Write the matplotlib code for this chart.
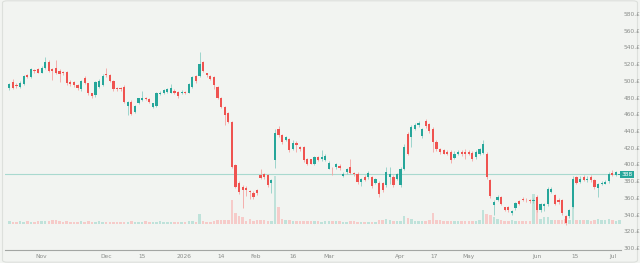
import matplotlib
matplotlib.use("Agg")
import matplotlib.pyplot as plt
from matplotlib.patches import FancyBboxPatch
import numpy as np

opens = [491,499,495,493,496,507,505,513,514,510,515,523,514,515,512,511,511,499,499,495,
         490,504,497,485,483,493,495,508,507,500,492,492,493,470,475,463,473,477,480,478,
         469,470,484,485,487,486,488,487,485,487,486,493,506,506,522,509,506,505,493,480,
         469,462,451,399,378,373,372,368,366,369,387,389,387,378,405,442,435,429,431,419,
         426,421,421,406,406,401,409,406,405,395,395,397,398,386,391,397,390,389,379,385,
         385,385,378,378,378,375,385,385,383,375,395,437,433,443,447,434,452,448,443,427,
         418,417,415,415,408,413,415,415,415,414,409,413,414,413,381,351,357,361,349,349,
         342,348,356,359,358,357,356,361,345,350,353,367,363,358,357,338,338,349,385,379,
         385,381,385,381,372,376,377,380,390,387,387]
highs = [498,502,497,500,507,508,516,514,515,518,528,525,515,525,514,512,512,501,500,496,
         501,506,498,486,500,502,508,516,508,501,493,493,495,476,477,471,480,488,481,480,
         474,487,488,490,492,496,490,488,489,488,497,506,507,535,524,510,507,506,494,481,
         470,463,452,401,380,375,374,369,368,371,395,390,389,382,442,446,436,434,432,429,
         428,422,422,408,407,410,410,417,412,404,397,402,401,391,396,407,391,391,384,387,
         392,386,384,380,379,397,397,387,390,397,424,439,447,450,452,444,454,450,445,429,
         420,418,417,417,416,417,417,418,417,416,417,420,429,415,383,357,363,362,349,350,
         345,355,357,361,360,359,360,363,354,354,373,373,365,360,359,340,347,386,386,386,
         387,386,387,383,378,380,381,391,393,392,390]
lows = [489,490,492,491,495,504,503,510,509,509,514,511,501,508,499,507,495,494,493,489,
        488,496,483,480,481,491,494,505,499,488,488,488,473,459,459,461,472,476,477,473,
        467,469,483,484,486,485,484,480,484,484,485,492,498,505,511,505,501,490,478,467,
        447,450,396,372,365,348,362,359,359,363,382,383,373,366,396,433,425,428,415,417,
        415,416,403,399,400,399,404,404,404,394,387,395,393,385,389,389,386,377,374,380,
        383,372,376,361,367,373,377,373,381,373,393,411,421,441,445,432,444,438,415,416,
        413,412,411,402,406,411,410,406,411,404,406,411,412,382,360,340,356,352,344,343,
        340,346,351,356,355,354,354,343,343,344,350,366,351,353,340,328,336,348,376,378,
        380,379,379,371,361,375,376,378,386,386,386]
closes = [496,492,494,497,506,505,514,512,510,516,523,512,512,510,508,509,497,496,495,491,
          500,497,485,482,499,500,506,507,500,490,490,490,475,475,460,470,479,480,478,475,
          473,485,486,489,490,491,485,482,487,485,496,505,500,520,512,507,502,495,480,469,
          459,451,397,373,367,369,369,367,361,366,384,385,375,381,438,435,427,433,417,426,
          423,418,405,401,401,409,405,409,410,402,394,401,396,389,394,390,388,379,382,381,
          390,374,382,365,369,391,389,375,389,395,421,413,445,447,449,442,446,440,427,418,
          415,413,413,405,413,415,413,413,413,406,415,418,425,385,362,355,361,353,346,345,
          344,354,353,357,357,356,358,345,353,353,371,371,353,355,342,330,346,383,378,383,
          381,383,381,373,376,378,379,389,387,391,388]
volumes = [3,2.5,2.5,3,2.5,3,2.5,2.5,3,3.3,3,3,4.3,4,3,2.5,3,2.5,2.5,2.5,
           3,2.5,3,2.5,2.5,3,2.5,2.5,2.5,2.5,2.5,2.5,2.5,2.5,3.5,2.5,2.5,2.5,3,2.5,
           2.5,2.5,3,2.5,2.5,2.5,2.5,2.5,2.5,2.5,3,3,2.5,10,3,2.5,2.5,3,4,4,
           4,4.5,24,11,8,7,3,5,3,4,4,4,3,3,48,17,5,4.5,4,3.5,
           3.5,3,3,3.5,3,3,3,2.5,3.5,3.5,3,3,3,2.5,2.5,3,3,2.5,2.5,2.5,
           2.5,2.5,2.5,4,4,5,4,3,3,3.5,8,6,5,3,3,3,3,4,11,4,
           4,3.5,3,3,3.5,3,3,3,3,3,3.5,4,14,10,9,7,5,4,3,3.5,
           4,3.5,3,3,3,3,30,24,5,7,7,4,4,4,4,5,4,20,4,4,
           4,4,3.5,4.5,5,4,4,5,4,3.5,4]

tick_idx = [9, 27, 37, 48.7, 59, 68.7, 79, 89, 108.8, 118.3, 127.8, 147, 157.6, 168]
tick_labels = ["Nov", "Dec", "15", "2026", "14", "Feb", "16", "Mar", "Apr", "17", "May", "Jun", "15", "Jul"]
price_ticks = list(range(300, 581, 20))
last_price = 388

UP = "#26a69a"
DOWN = "#ef5350"
UP_W = "#8fd0c6"
DOWN_W = "#f5a3a1"
UP_V = "#bfe2da"
DOWN_V = "#f6cbc9"
BG = "#f2f4f1"

W, H = 640, 263
fig = plt.figure(figsize=(W / 100, H / 100), dpi=100, facecolor=BG)

left, right, top, bottom = 5, 621, 0, 250
rect = [left / W, (H - bottom) / H, (right - left) / W, (bottom - top) / H]
ax = fig.add_axes(rect)
axv = fig.add_axes(rect)
ax.set_zorder(2)
ax.patch.set_visible(False)
axv.set_facecolor(BG)

n = len(opens)
x = np.arange(n)
o = np.array(opens, float); c = np.array(closes, float)
h = np.array(highs, float); l = np.array(lows, float)
up = c >= o

# volume
axv.bar(x, volumes, width=0.7, color=[UP_V if u else DOWN_V for u in up], linewidth=0)
axv.set_ylim(-26, 224)
axv.set_xlim(-1.2, 170.4)
axv.axis("off")

# candles
hh = np.maximum(h, np.maximum(o, c)); ll = np.minimum(l, np.minimum(o, c))
ax.vlines(x, ll, hh, colors=[UP_W if u else DOWN_W for u in up], linewidth=0.6, zorder=2)
body = np.where(np.abs(c - o) < 0.9, 0.9, np.abs(c - o))
ax.bar(x, body, bottom=np.minimum(o, c), width=0.62,
       color=[UP if u else DOWN for u in up], linewidth=0, zorder=3)

ax.axhline(last_price, color="#a9d9cf", linewidth=0.8, zorder=1)

ax.set_xlim(-1.2, 170.4)
ax.set_ylim(297.6, 596.8)
ax.set_xticks(tick_idx)
ax.set_xticklabels(tick_labels)
ax.set_yticks(price_ticks)
ax.set_yticklabels([f"{v}.£" for v in price_ticks])
ax.yaxis.tick_right()
ax.tick_params(axis="both", length=0, labelsize=4.2, colors="#8a8d8a")
ax.tick_params(axis="x", pad=3)
ax.tick_params(axis="y", pad=2)
for s in ["top", "left", "right"]:
    ax.spines[s].set_visible(False)
ax.spines["bottom"].set_color("#a3a6a3")
ax.spines["bottom"].set_linewidth(0.8)

# last price label
ax.text(1.0, last_price, f"{last_price}", transform=ax.get_yaxis_transform(),
        ha="left", va="center", fontsize=4.2, color="white", zorder=5,
        bbox=dict(boxstyle="square,pad=0.25", facecolor=UP, edgecolor="none"))

# outer border
fig.patches.append(FancyBboxPatch((2.5 / W, 0.8 / H), (W - 5) / W, (H - 1.6) / H,
                                  boxstyle="round,pad=0,rounding_size=0.008",
                                  transform=fig.transFigure, facecolor="none",
                                  edgecolor="#dde0dc", linewidth=0.8))

fig.savefig("out.png", dpi=100, facecolor=BG)
